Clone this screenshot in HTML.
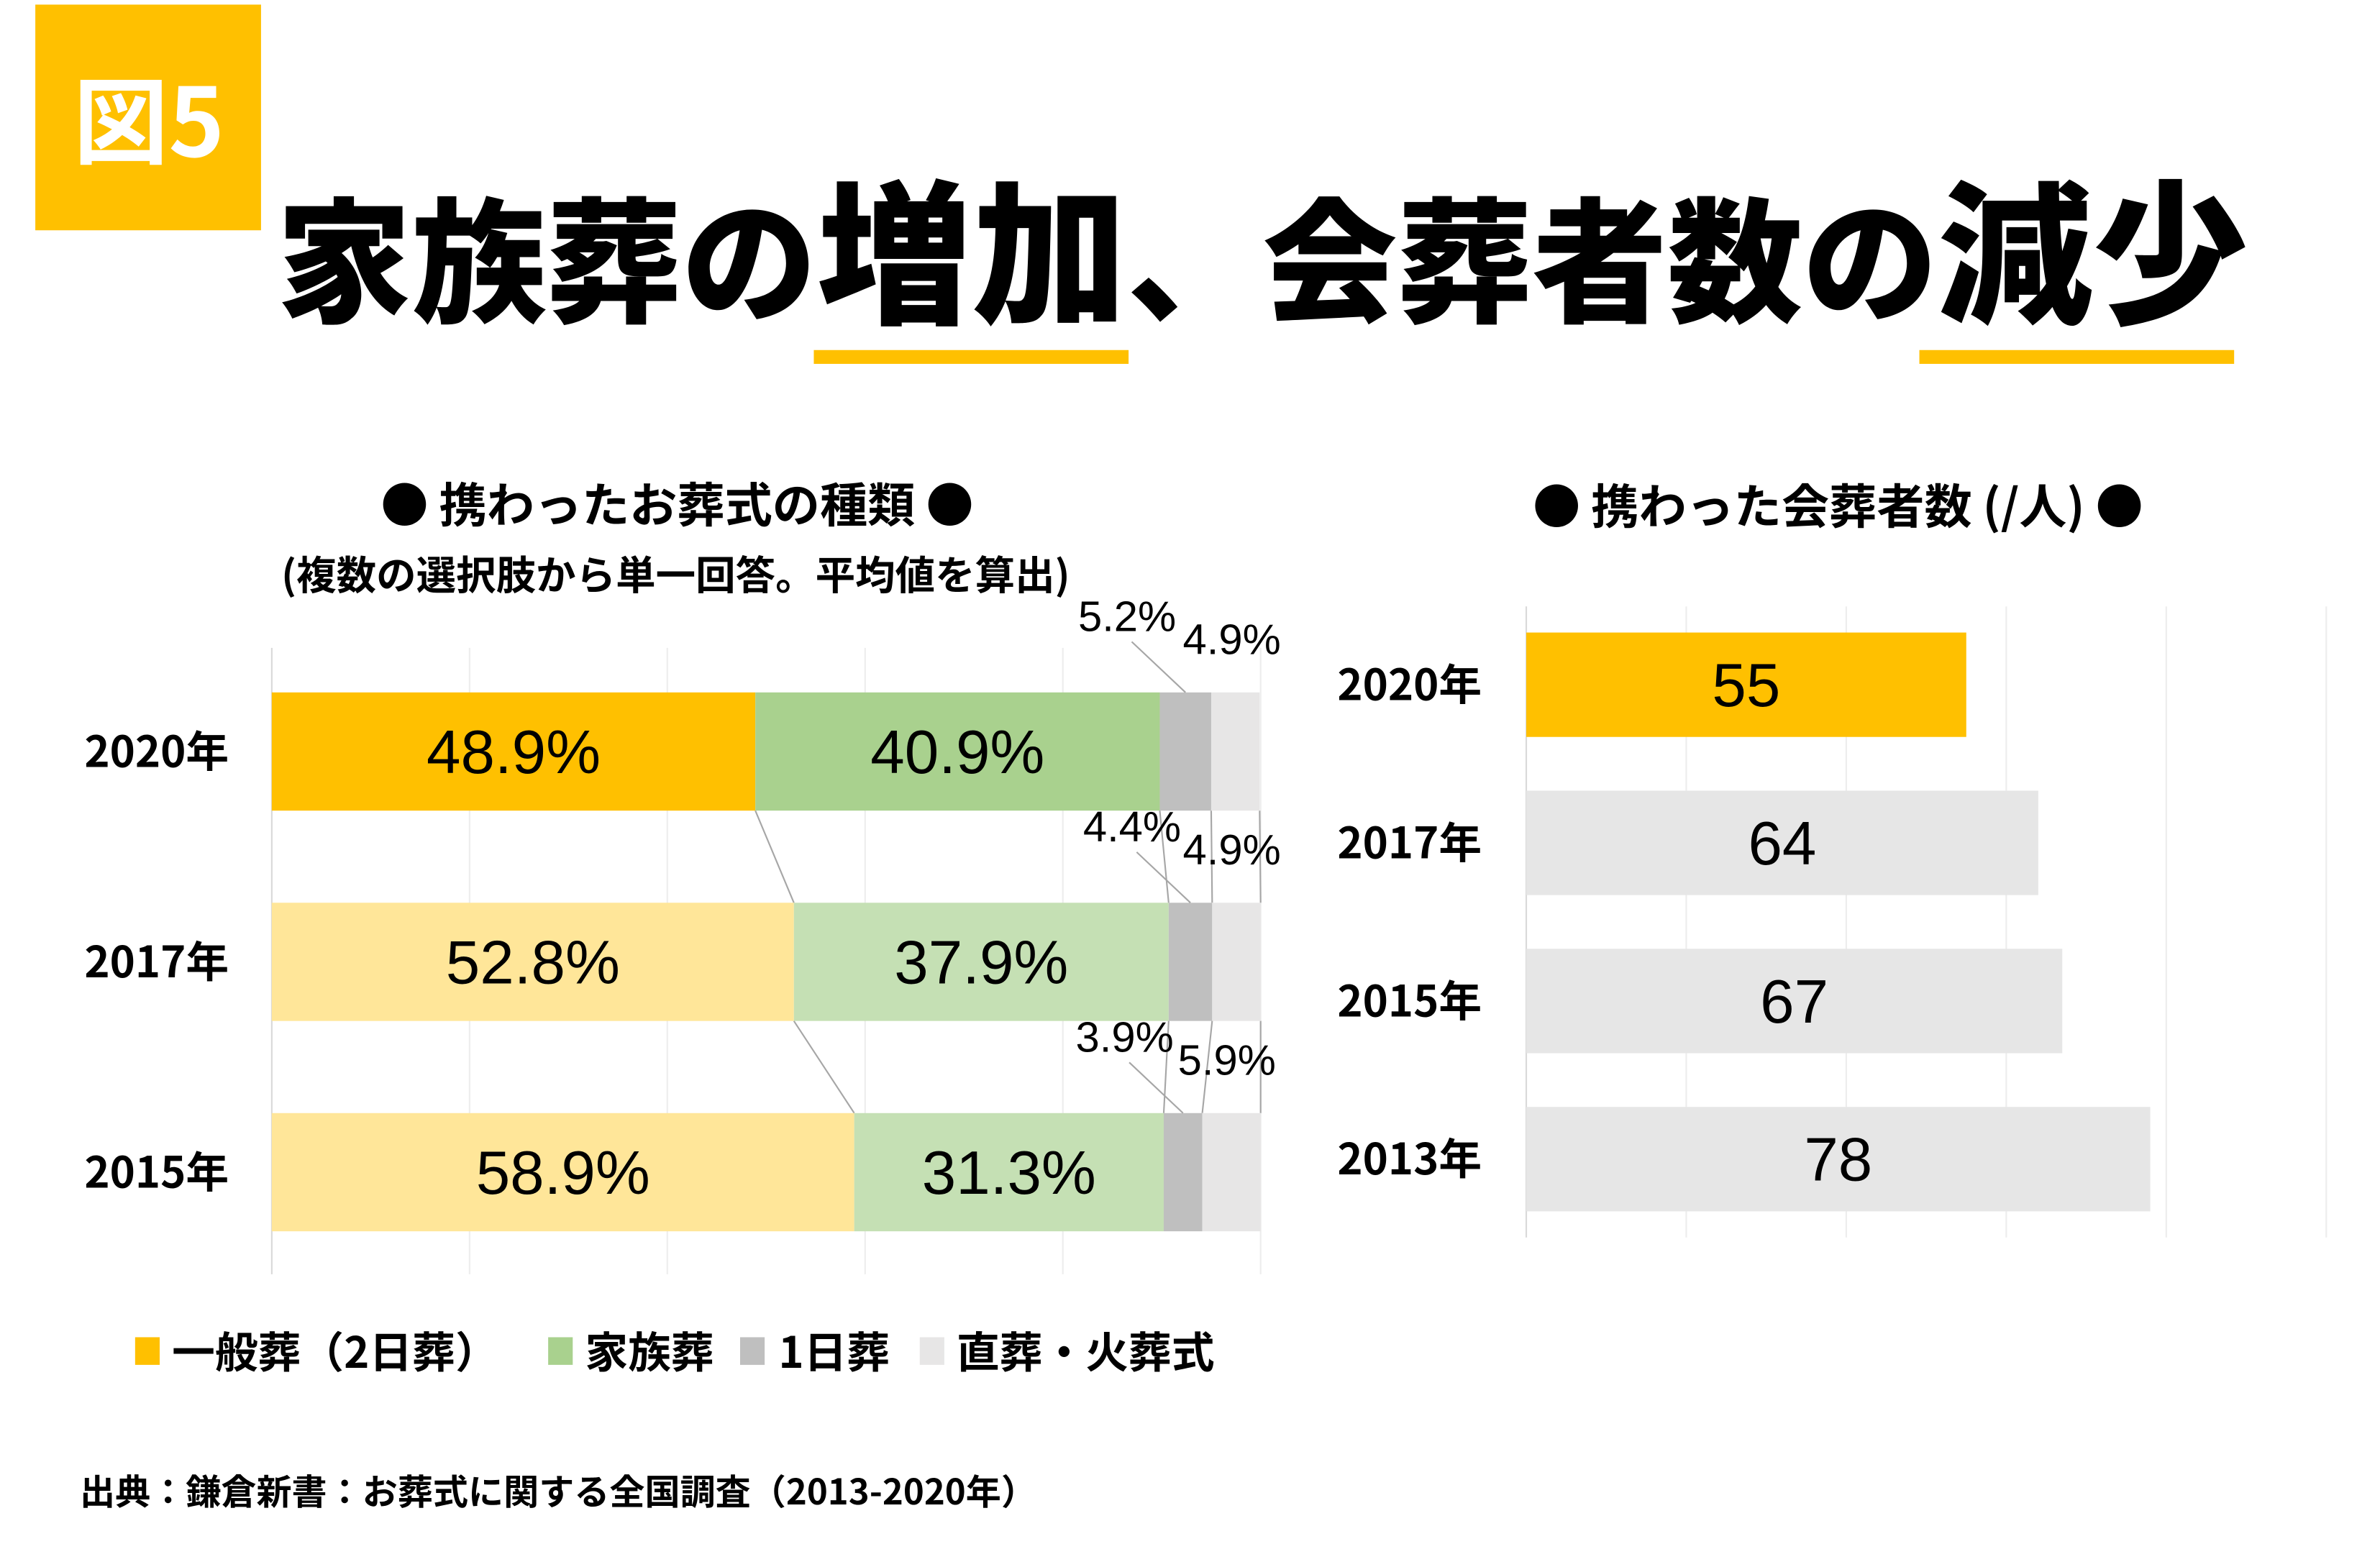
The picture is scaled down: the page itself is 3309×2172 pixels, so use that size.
<!DOCTYPE html>
<html><head><meta charset="utf-8"><style>
html,body{margin:0;padding:0;background:#fff;}
svg{display:block;}
text{font-family:"Liberation Sans","Noto Sans CJK JP",sans-serif;}
.jp{font-family:"Noto Sans CJK JP","Liberation Sans",sans-serif;font-weight:700;}
.blk{font-family:"Noto Sans CJK JP","Liberation Sans",sans-serif;font-weight:900;}
</style></head><body>
<svg id="root" width="3309" height="2172" viewBox="0 0 1550 1017.4" xmlns="http://www.w3.org/2000/svg">
<rect x="23" y="3" width="147" height="147" fill="#FFC000"/>
<text class="jp" x="97" y="102" font-size="62" fill="#fff" text-anchor="middle">図5</text>
<text class="blk" x="180" y="203" font-size="88" fill="#000">家族葬の<tspan font-size="101">増加</tspan>、会葬者数の<tspan font-size="101">減少</tspan></text>
<rect x="530" y="228" width="205" height="9" fill="#FFC000"/>
<rect x="1250" y="228" width="205" height="9" fill="#FFC000"/>

<text class="jp" x="441" y="340" font-size="31" text-anchor="middle">● 携わったお葬式の種類 ●</text>
<text class="jp" x="440" y="384" font-size="26" text-anchor="middle">(複数の選択肢から単一回答。平均値を算出)</text>
<text class="jp" x="1197" y="341" font-size="31" text-anchor="middle">● 携わった会葬者数 (/人) ●</text>

<g id="left"></g>
<g id="right"></g>

<g>
<rect x="88" y="871" width="16" height="18" fill="#FFC000"/>
<text class="jp" x="112" y="891" font-size="28">一般葬（2日葬）</text>
<rect x="357" y="871" width="16" height="18" fill="#A9D18E"/>
<text class="jp" x="381" y="891" font-size="28">家族葬</text>
<rect x="482" y="871" width="16" height="18" fill="#BFBFBF"/>
<text class="jp" x="507" y="891" font-size="28">1日葬</text>
<rect x="599" y="871" width="16" height="18" fill="#E7E6E6"/>
<text class="jp" x="623" y="891" font-size="28">直葬・火葬式</text>
</g>
<text class="jp" x="52" y="980" font-size="23">出典：鎌倉新書：お葬式に関する全国調査（2013-2020年）</text>
</svg>
<script>
const years = ["2020年","2017年","2015年"];
const general = [48.9, 52.8, 58.9];
const family = [40.9, 37.9, 31.3];
const oneDay = [5.2, 4.4, 3.9];
const direct = [4.9, 4.9, 5.9];
const leftTicks = [0,20,40,60,80,100];

const rYears = ["2020年","2017年","2015年","2013年"];
const attendees = [55, 64, 67, 78];
const rightTicks = [0,20,40,60,80,100];

const NS="http://www.w3.org/2000/svg";
function mk(parent,tag,attrs,txt){const e=document.createElementNS(NS,tag);for(const k in attrs)e.setAttribute(k,attrs[k]);if(txt!==undefined)e.textContent=txt;parent.appendChild(e);return e;}

const L=document.getElementById('left');
const lx=v=>177+(821-177)*v/100;
const barTop=i=>451+137*i, barH=77;
leftTicks.forEach(t=>{
  const g=mk(L,'line',{x1:lx(t),x2:lx(t),y1:422,y2:830,stroke:t===0?'#D9D9D9':'#EDEDED','stroke-width':1});
  
  
});
const series=[general,family,oneDay,direct];
const colorsTop=['#FFC000','#A9D18E','#BFBFBF','#E7E6E6'];
const colorsOther=['#FFE699','#C5E0B4','#BFBFBF','#E7E6E6'];
const segNames=['general','family','oneday','direct'];
for(let i=0;i<years.length-1;i++){
  let a=0,b=0;
  for(let s=0;s<4;s++){
    a+=series[s][i]; b+=series[s][i+1];
    const ln=mk(L,'line',{x1:lx(a),y1:barTop(i)+barH,x2:lx(b),y2:barTop(i+1),stroke:'#A6A6A6','stroke-width':1});
    
    
  }
}
years.forEach((y,i)=>{
  const yl=mk(L,'text',{x:102,y:barTop(i)+barH/2+10,'font-size':28,'text-anchor':'middle',class:'jp'},y);
  
  
  let acc=0;
  for(let s=0;s<4;s++){
    const v=series[s][i];
    const r=mk(L,'rect',{x:lx(acc),y:barTop(i),width:lx(acc+v)-lx(acc),height:barH,fill:(i===0?colorsTop:colorsOther)[s]});
    
    
    if(s<2){
      const t=mk(L,'text',{x:(lx(acc)+lx(acc+v))/2,y:barTop(i)+barH/2+14,'font-size':40,'text-anchor':'middle'},v.toFixed(1)+'%');
      
      
    }
    acc+=v;
  }
  const gEnd=lx(general[i]+family[i]);
  const oMid=(gEnd+lx(general[i]+family[i]+oneDay[i]))/2;
  const dMid=(lx(100-direct[i])+lx(100))/2;
  const ty=barTop(i)-31;
  const t1=mk(L,'text',{x:oMid-38,y:ty-9,'font-size':28,'text-anchor':'middle'},oneDay[i].toFixed(1)+'%');
  
  
  const l1=mk(L,'line',{x1:oMid-35,y1:ty-2,x2:oMid,y2:barTop(i),stroke:'#A6A6A6','stroke-width':1});
  
  
  const t2=mk(L,'text',{x:dMid-3,y:ty+6,'font-size':28,'text-anchor':'middle'},direct[i].toFixed(1)+'%');
  
  
});

const R=document.getElementById('right');
const rx=v=>994+(1515-994)*v/100;
const rTop=i=>412+103*i, rH=68;
rightTicks.forEach(t=>{
  const g=mk(R,'line',{x1:rx(t),x2:rx(t),y1:395,y2:806,stroke:t===0?'#D9D9D9':'#EDEDED','stroke-width':1});
  
  
});
rYears.forEach((y,i)=>{
  const yl=mk(R,'text',{x:918,y:rTop(i)+rH/2+10,'font-size':28,'text-anchor':'middle',class:'jp'},y);
  
  
  const b=mk(R,'rect',{x:rx(0),y:rTop(i),width:rx(attendees[i])-rx(0),height:rH,fill:i===0?'#FFC000':'#E6E6E6'});
  
  
  const t=mk(R,'text',{x:(rx(0)+rx(attendees[i]))/2,y:rTop(i)+rH/2+14,'font-size':40,'text-anchor':'middle'},String(attendees[i]));
  
  
});
</script>
</body></html>
